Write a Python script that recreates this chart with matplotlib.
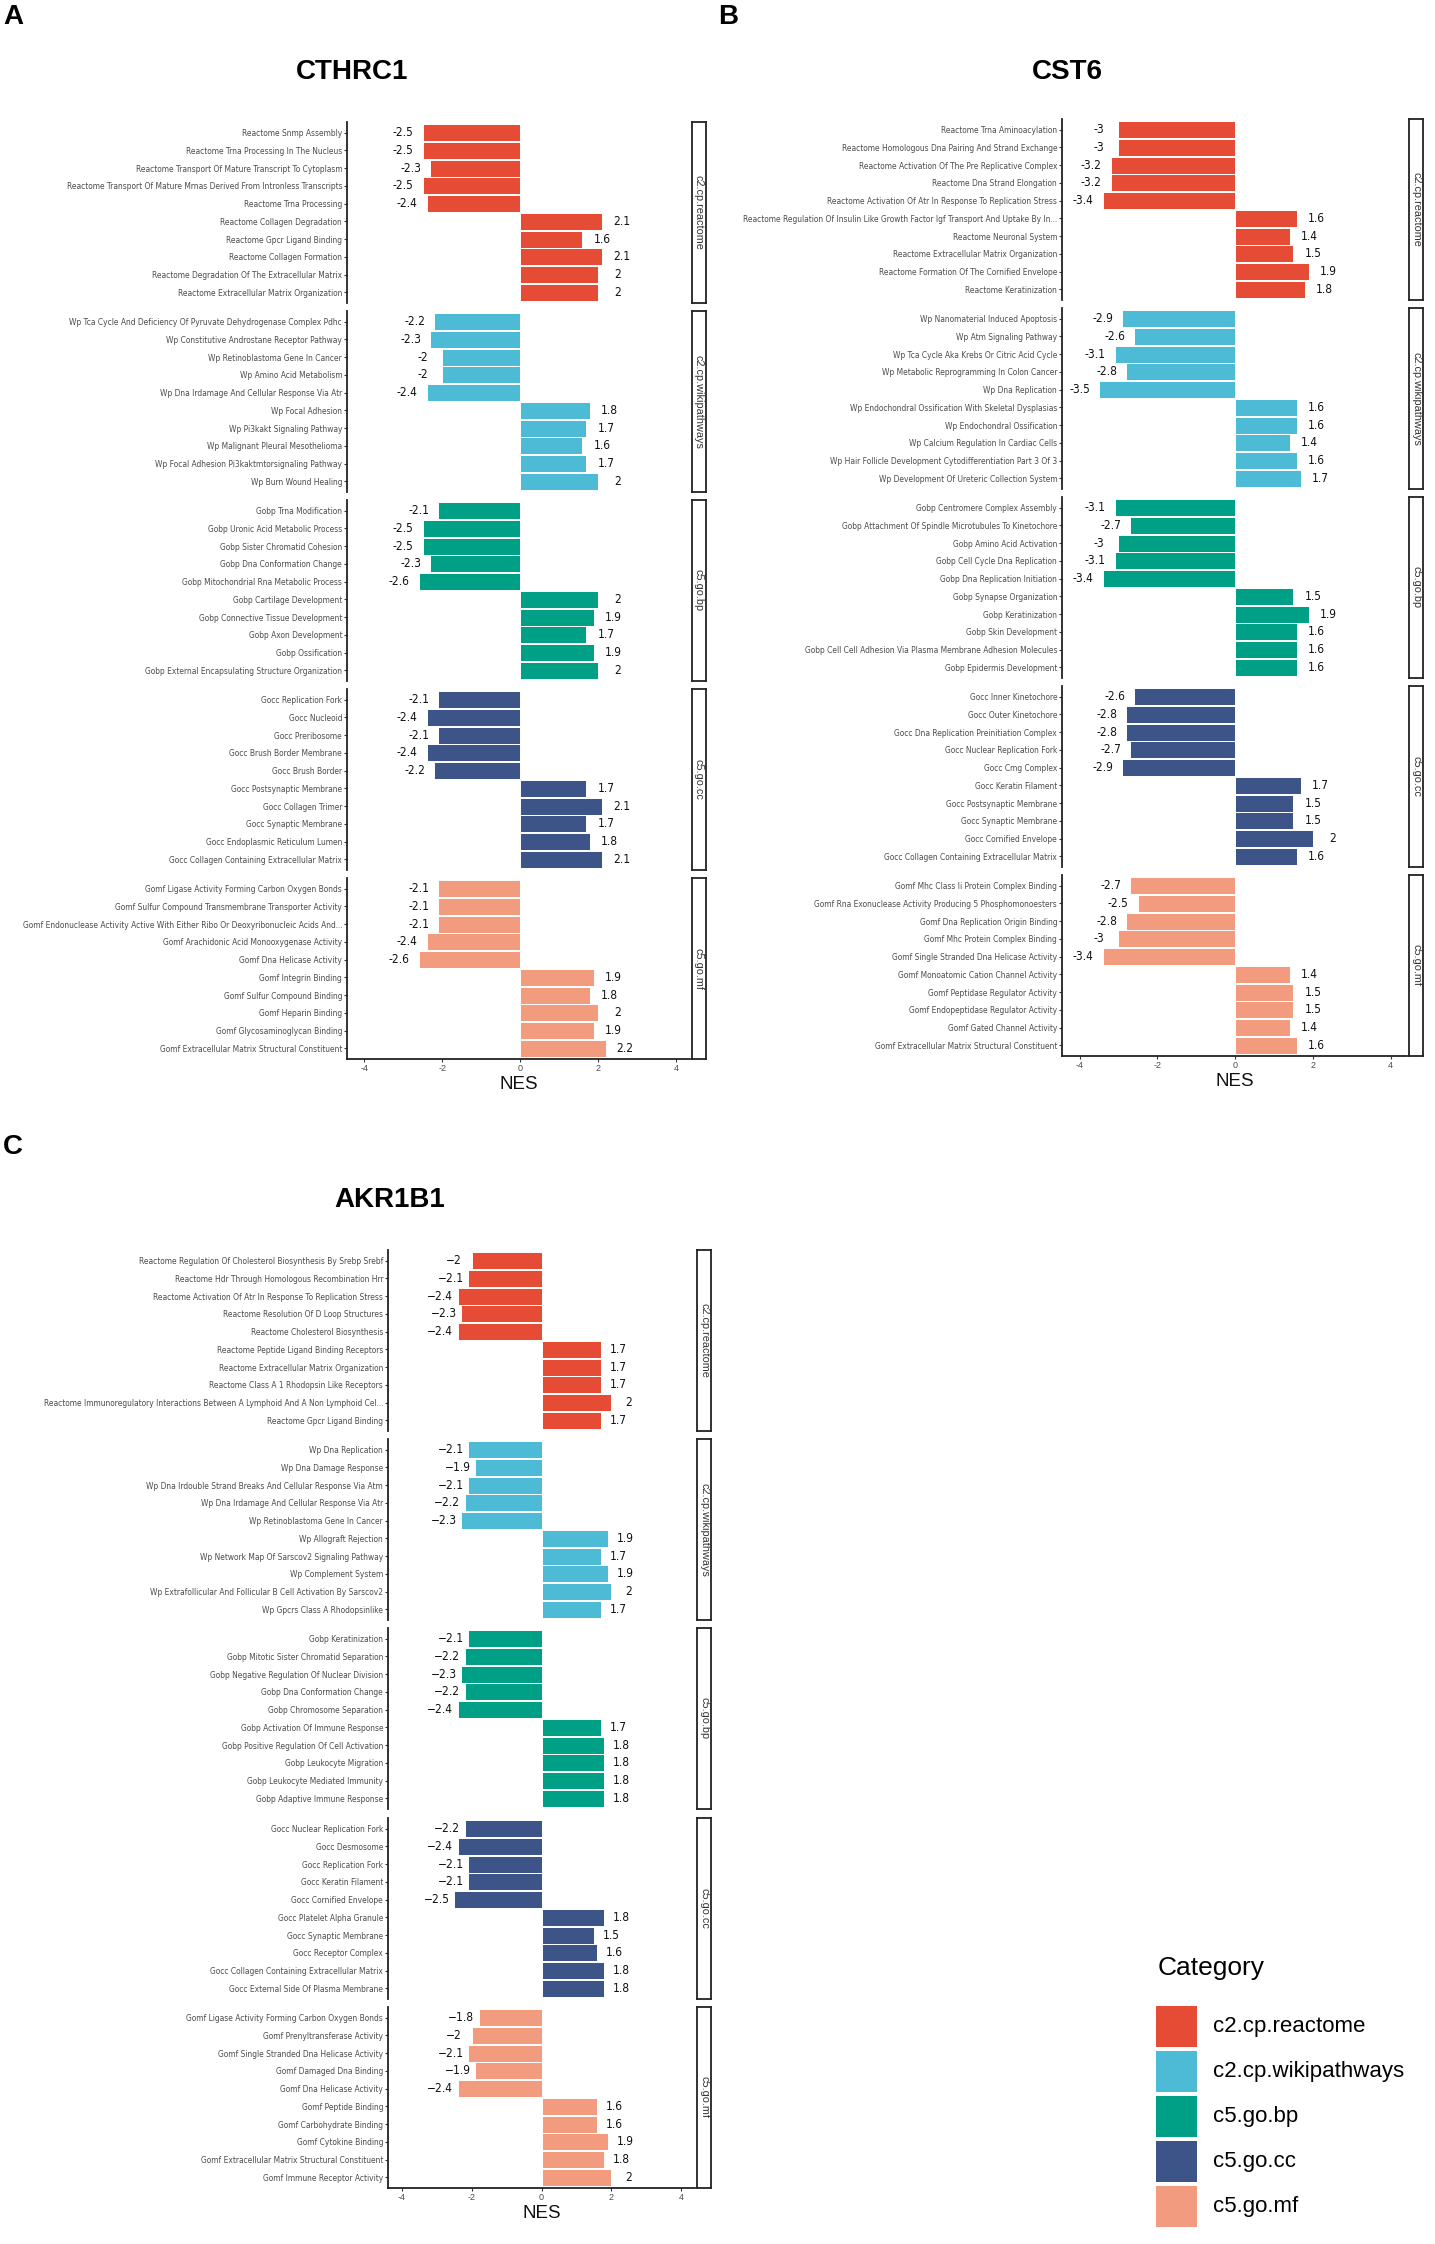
import os
import matplotlib
matplotlib.use("Agg")
import matplotlib.pyplot as plt
from matplotlib.patches import Rectangle
from matplotlib import font_manager
from matplotlib.font_manager import FontProperties

plt.rcParams['font.family'] = ['Liberation Sans', 'DejaVu Sans']

# narrowest available face for the long term labels
narrow_file = None
for pref in ["LiberationSansNarrow-Regular", "DejaVuSansCondensed.ttf", "Condensed-Regular", "Condensed"]:
    for f in font_manager.fontManager.ttflist:
        b = os.path.basename(f.fname)
        if pref in b and "Bold" not in b and "Oblique" not in b and "Italic" not in b:
            narrow_file = f.fname
            break
    if narrow_file:
        break

# ---------------- data ----------------
categories = ["c2.cp.reactome", "c2.cp.wikipathways", "c5.go.bp", "c5.go.cc", "c5.go.mf"]
category_colors = ["#E64B35", "#4DBBD5", "#00A087", "#3C5488", "#F39B7F"]
titles = ["CTHRC1", "CST6", "AKR1B1"]
panel_letters = ["A", "B", "C"]

# Panel A: CTHRC1
A_reactome_terms = ["Reactome Snmp Assembly", "Reactome Trna Processing In The Nucleus",
                    "Reactome Transport Of Mature Transcript To Cytoplasm",
                    "Reactome Transport Of Mature Mrnas Derived From Intronless Transcripts",
                    "Reactome Trna Processing", "Reactome Collagen Degradation",
                    "Reactome Gpcr Ligand Binding", "Reactome Collagen Formation",
                    "Reactome Degradation Of The Extracellular Matrix",
                    "Reactome Extracellular Matrix Organization"]
A_reactome_nes = [-2.5, -2.5, -2.3, -2.5, -2.4, 2.1, 1.6, 2.1, 2.0, 2.0]
A_wiki_terms = ["Wp Tca Cycle And Deficiency Of Pyruvate Dehydrogenase Complex Pdhc",
                "Wp Constitutive Androstane Receptor Pathway", "Wp Retinoblastoma Gene In Cancer",
                "Wp Amino Acid Metabolism", "Wp Dna Irdamage And Cellular Response Via Atr",
                "Wp Focal Adhesion", "Wp Pi3kakt Signaling Pathway", "Wp Malignant Pleural Mesothelioma",
                "Wp Focal Adhesion Pi3kaktmtorsignaling Pathway", "Wp Burn Wound Healing"]
A_wiki_nes = [-2.2, -2.3, -2.0, -2.0, -2.4, 1.8, 1.7, 1.6, 1.7, 2.0]
A_bp_terms = ["Gobp Trna Modification", "Gobp Uronic Acid Metabolic Process",
              "Gobp Sister Chromatid Cohesion", "Gobp Dna Conformation Change",
              "Gobp Mitochondrial Rna Metabolic Process", "Gobp Cartilage Development",
              "Gobp Connective Tissue Development", "Gobp Axon Development", "Gobp Ossification",
              "Gobp External Encapsulating Structure Organization"]
A_bp_nes = [-2.1, -2.5, -2.5, -2.3, -2.6, 2.0, 1.9, 1.7, 1.9, 2.0]
A_cc_terms = ["Gocc Replication Fork", "Gocc Nucleoid", "Gocc Preribosome",
              "Gocc Brush Border Membrane", "Gocc Brush Border", "Gocc Postsynaptic Membrane",
              "Gocc Collagen Trimer", "Gocc Synaptic Membrane", "Gocc Endoplasmic Reticulum Lumen",
              "Gocc Collagen Containing Extracellular Matrix"]
A_cc_nes = [-2.1, -2.4, -2.1, -2.4, -2.2, 1.7, 2.1, 1.7, 1.8, 2.1]
A_mf_terms = ["Gomf Ligase Activity Forming Carbon Oxygen Bonds",
              "Gomf Sulfur Compound Transmembrane Transporter Activity",
              "Gomf Endonuclease Activity Active With Either Ribo Or Deoxyribonucleic Acids And...",
              "Gomf Arachidonic Acid Monooxygenase Activity", "Gomf Dna Helicase Activity",
              "Gomf Integrin Binding", "Gomf Sulfur Compound Binding", "Gomf Heparin Binding",
              "Gomf Glycosaminoglycan Binding", "Gomf Extracellular Matrix Structural Constituent"]
A_mf_nes = [-2.1, -2.1, -2.1, -2.4, -2.6, 1.9, 1.8, 2.0, 1.9, 2.2]

# Panel B: CST6
B_reactome_terms = ["Reactome Trna Aminoacylation", "Reactome Homologous Dna Pairing And Strand Exchange",
                    "Reactome Activation Of The Pre Replicative Complex", "Reactome Dna Strand Elongation",
                    "Reactome Activation Of Atr In Response To Replication Stress",
                    "Reactome Regulation Of Insulin Like Growth Factor Igf Transport And Uptake By In...",
                    "Reactome Neuronal System", "Reactome Extracellular Matrix Organization",
                    "Reactome Formation Of The Cornified Envelope", "Reactome Keratinization"]
B_reactome_nes = [-3.0, -3.0, -3.2, -3.2, -3.4, 1.6, 1.4, 1.5, 1.9, 1.8]
B_wiki_terms = ["Wp Nanomaterial Induced Apoptosis", "Wp Atm Signaling Pathway",
                "Wp Tca Cycle Aka Krebs Or Citric Acid Cycle", "Wp Metabolic Reprogramming In Colon Cancer",
                "Wp Dna Replication", "Wp Endochondral Ossification With Skeletal Dysplasias",
                "Wp Endochondral Ossification", "Wp Calcium Regulation In Cardiac Cells",
                "Wp Hair Follicle Development Cytodifferentiation Part 3 Of 3",
                "Wp Development Of Ureteric Collection System"]
B_wiki_nes = [-2.9, -2.6, -3.1, -2.8, -3.5, 1.6, 1.6, 1.4, 1.6, 1.7]
B_bp_terms = ["Gobp Centromere Complex Assembly", "Gobp Attachment Of Spindle Microtubules To Kinetochore",
              "Gobp Amino Acid Activation", "Gobp Cell Cycle Dna Replication",
              "Gobp Dna Replication Initiation", "Gobp Synapse Organization", "Gobp Keratinization",
              "Gobp Skin Development", "Gobp Cell Cell Adhesion Via Plasma Membrane Adhesion Molecules",
              "Gobp Epidermis Development"]
B_bp_nes = [-3.1, -2.7, -3.0, -3.1, -3.4, 1.5, 1.9, 1.6, 1.6, 1.6]
B_cc_terms = ["Gocc Inner Kinetochore", "Gocc Outer Kinetochore",
              "Gocc Dna Replication Preinitiation Complex", "Gocc Nuclear Replication Fork",
              "Gocc Cmg Complex", "Gocc Keratin Filament", "Gocc Postsynaptic Membrane",
              "Gocc Synaptic Membrane", "Gocc Cornified Envelope",
              "Gocc Collagen Containing Extracellular Matrix"]
B_cc_nes = [-2.6, -2.8, -2.8, -2.7, -2.9, 1.7, 1.5, 1.5, 2.0, 1.6]
B_mf_terms = ["Gomf Mhc Class Ii Protein Complex Binding",
              "Gomf Rna Exonuclease Activity Producing 5 Phosphomonoesters",
              "Gomf Dna Replication Origin Binding", "Gomf Mhc Protein Complex Binding",
              "Gomf Single Stranded Dna Helicase Activity", "Gomf Monoatomic Cation Channel Activity",
              "Gomf Peptidase Regulator Activity", "Gomf Endopeptidase Regulator Activity",
              "Gomf Gated Channel Activity", "Gomf Extracellular Matrix Structural Constituent"]
B_mf_nes = [-2.7, -2.5, -2.8, -3.0, -3.4, 1.4, 1.5, 1.5, 1.4, 1.6]

# Panel C: AKR1B1
C_reactome_terms = ["Reactome Regulation Of Cholesterol Biosynthesis By Srebp Srebf",
                    "Reactome Hdr Through Homologous Recombination Hrr",
                    "Reactome Activation Of Atr In Response To Replication Stress",
                    "Reactome Resolution Of D Loop Structures", "Reactome Cholesterol Biosynthesis",
                    "Reactome Peptide Ligand Binding Receptors", "Reactome Extracellular Matrix Organization",
                    "Reactome Class A 1 Rhodopsin Like Receptors",
                    "Reactome Immunoregulatory Interactions Between A Lymphoid And A Non Lymphoid Cel...",
                    "Reactome Gpcr Ligand Binding"]
C_reactome_nes = [-2.0, -2.1, -2.4, -2.3, -2.4, 1.7, 1.7, 1.7, 2.0, 1.7]
C_wiki_terms = ["Wp Dna Replication", "Wp Dna Damage Response",
                "Wp Dna Irdouble Strand Breaks And Cellular Response Via Atm",
                "Wp Dna Irdamage And Cellular Response Via Atr", "Wp Retinoblastoma Gene In Cancer",
                "Wp Allograft Rejection", "Wp Network Map Of Sarscov2 Signaling Pathway",
                "Wp Complement System", "Wp Extrafollicular And Follicular B Cell Activation By Sarscov2",
                "Wp Gpcrs Class A Rhodopsinlike"]
C_wiki_nes = [-2.1, -1.9, -2.1, -2.2, -2.3, 1.9, 1.7, 1.9, 2.0, 1.7]
C_bp_terms = ["Gobp Keratinization", "Gobp Mitotic Sister Chromatid Separation",
              "Gobp Negative Regulation Of Nuclear Division", "Gobp Dna Conformation Change",
              "Gobp Chromosome Separation", "Gobp Activation Of Immune Response",
              "Gobp Positive Regulation Of Cell Activation", "Gobp Leukocyte Migration",
              "Gobp Leukocyte Mediated Immunity", "Gobp Adaptive Immune Response"]
C_bp_nes = [-2.1, -2.2, -2.3, -2.2, -2.4, 1.7, 1.8, 1.8, 1.8, 1.8]
C_cc_terms = ["Gocc Nuclear Replication Fork", "Gocc Desmosome", "Gocc Replication Fork",
              "Gocc Keratin Filament", "Gocc Cornified Envelope", "Gocc Platelet Alpha Granule",
              "Gocc Synaptic Membrane", "Gocc Receptor Complex",
              "Gocc Collagen Containing Extracellular Matrix", "Gocc External Side Of Plasma Membrane"]
C_cc_nes = [-2.2, -2.4, -2.1, -2.1, -2.5, 1.8, 1.5, 1.6, 1.8, 1.8]
C_mf_terms = ["Gomf Ligase Activity Forming Carbon Oxygen Bonds", "Gomf Prenyltransferase Activity",
              "Gomf Single Stranded Dna Helicase Activity", "Gomf Damaged Dna Binding",
              "Gomf Dna Helicase Activity", "Gomf Peptide Binding", "Gomf Carbohydrate Binding",
              "Gomf Cytokine Binding", "Gomf Extracellular Matrix Structural Constituent",
              "Gomf Immune Receptor Activity"]
C_mf_nes = [-1.8, -2.0, -2.1, -1.9, -2.4, 1.6, 1.6, 1.9, 1.8, 2.0]

x_ticks = [-4, -2, 0, 2, 4]

# ---------------- layout ----------------
W, H = 1435, 2244
fig = plt.figure(figsize=(W / 100, H / 100), dpi=100)
fig.patch.set_facecolor("white")
renderer = fig.canvas.get_renderer()


def px_axes(x0, y0, x1, y1):
    return fig.add_axes([x0 / W, 1 - y1 / H, (x1 - x0) / W, (y1 - y0) / H])


def label_props(size):
    if narrow_file:
        return FontProperties(fname=narrow_file, size=size)
    return FontProperties(family=['Liberation Sans', 'DejaVu Sans'], size=size)


def fit_size(text, target_px, base=10):
    t = fig.text(0, 0, text, fontproperties=label_props(base))
    w = t.get_window_extent(renderer).width
    t.remove()
    return base * target_px / w


# term labels sized so the longest label spans the same width as in the reference
label_fs = min(fit_size(A_mf_terms[2], 322), 7.2)
label_fp = label_props(label_fs)
value_fp = label_props(8.6) if narrow_file else FontProperties(family=['Liberation Sans'], size=8.4)

panels = [
    dict(terms=[A_reactome_terms, A_wiki_terms, A_bp_terms, A_cc_terms, A_mf_terms],
         nes=[A_reactome_nes, A_wiki_nes, A_bp_nes, A_cc_nes, A_mf_nes],
         ax_x=(347, 690), strip_x=(692, 706), tops=[122, 311, 500, 689, 878],
         xlim=(-4.44, 4.36), title_xy=(352, 72), letter_xy=(3, 17), minus="-"),
    dict(terms=[B_reactome_terms, B_wiki_terms, B_bp_terms, B_cc_terms, B_mf_terms],
         nes=[B_reactome_nes, B_wiki_nes, B_bp_nes, B_cc_nes, B_mf_nes],
         ax_x=(1062, 1407), strip_x=(1409, 1423), tops=[119, 308, 497, 686, 875],
         xlim=(-4.45, 4.42), title_xy=(1067, 72), letter_xy=(718, 17), minus="-"),
    dict(terms=[C_reactome_terms, C_wiki_terms, C_bp_terms, C_cc_terms, C_mf_terms],
         nes=[C_reactome_nes, C_wiki_nes, C_bp_nes, C_cc_nes, C_mf_nes],
         ax_x=(388, 695), strip_x=(697, 711), tops=[1250, 1439, 1628, 1818, 2007],
         xlim=(-4.4, 4.4), title_xy=(390, 1200), letter_xy=(3, 1147), minus="\u2212"),
]
facet_h = 181
tick_color = "#4D4D4D"
bold_family = ["Liberation Sans", "DejaVu Sans"]

for p_i, p in enumerate(panels):
    for f_i, (terms, vals) in enumerate(zip(p["terms"], p["nes"])):
        top = p["tops"][f_i]
        ax = px_axes(p["ax_x"][0], top, p["ax_x"][1], top + facet_h)
        ypos = list(range(len(terms)))
        ax.barh(ypos, vals, height=0.95, color=category_colors[f_i],
                edgecolor="white", linewidth=0.7)
        for y, v in zip(ypos, vals):
            s = f"{abs(v):g}"
            if v < 0:
                s = p["minus"] + s
            xo = v + (0.5 if v > 0 else -0.5)
            ax.text(xo, y, s, ha="center", va="center", color="#111111",
                    fontproperties=value_fp)
        ax.set_ylim(len(terms) - 0.4, -0.6)
        ax.set_xlim(*p["xlim"])
        ax.set_yticks(ypos)
        ax.set_yticklabels(terms, fontproperties=label_fp, color=tick_color)
        ax.tick_params(axis="y", length=2.5, width=0.8, color="#333333", pad=1)
        for sp in ["top", "right"]:
            ax.spines[sp].set_visible(False)
        ax.spines["left"].set_linewidth(1.3)
        ax.spines["left"].set_color("#222222")
        if f_i < 4:
            ax.spines["bottom"].set_visible(False)
            ax.set_xticks([])
        else:
            ax.spines["bottom"].set_linewidth(1.3)
            ax.spines["bottom"].set_color("#222222")
            ax.set_xticks(x_ticks)
            ax.set_xticklabels([str(t) if t >= 0 else "-" + str(abs(t)) for t in x_ticks],
                               fontsize=6.5, color=tick_color)
            ax.tick_params(axis="x", length=2.5, width=0.8, color="#333333", pad=1)
            ax.set_xlabel("NES", fontsize=13.5, labelpad=2, color="#111111")
        ax.set_facecolor("white")
        # facet strip
        sax = px_axes(p["strip_x"][0], top, p["strip_x"][1], top + facet_h)
        sax.set_xticks([])
        sax.set_yticks([])
        for sp in sax.spines.values():
            sp.set_linewidth(1.3)
            sp.set_color("#222222")
        sax.text(0.5, 0.5, categories[f_i], rotation=-90, ha="center", va="center",
                 fontsize=7.8, color="#333333", transform=sax.transAxes)
    # title and panel letter
    fig.text(p["title_xy"][0] / W, 1 - p["title_xy"][1] / H, titles[p_i],
             ha="center", va="center", fontsize=20, fontweight="bold", family=bold_family)
    fig.text(p["letter_xy"][0] / W, 1 - p["letter_xy"][1] / H, panel_letters[p_i],
             ha="left", va="center", fontsize=20, fontweight="bold", family=bold_family)

# ---------------- legend ----------------
fig.text(1158 / W, 1 - 1968 / H, "Category", ha="left", va="center", fontsize=19,
         family=bold_family)
for i, (cat, col) in enumerate(zip(categories, category_colors)):
    ktop = 2006 + 45 * i
    fig.add_artist(Rectangle((1156 / W, 1 - (ktop + 41) / H), 41 / W, 41 / H,
                             transform=fig.transFigure, facecolor=col, edgecolor="none"))
    fig.text(1213 / W, 1 - (ktop + 20.5) / H, cat, ha="left", va="center", fontsize=16,
             family=bold_family)

fig.savefig("out.png", dpi=100, facecolor="white")
